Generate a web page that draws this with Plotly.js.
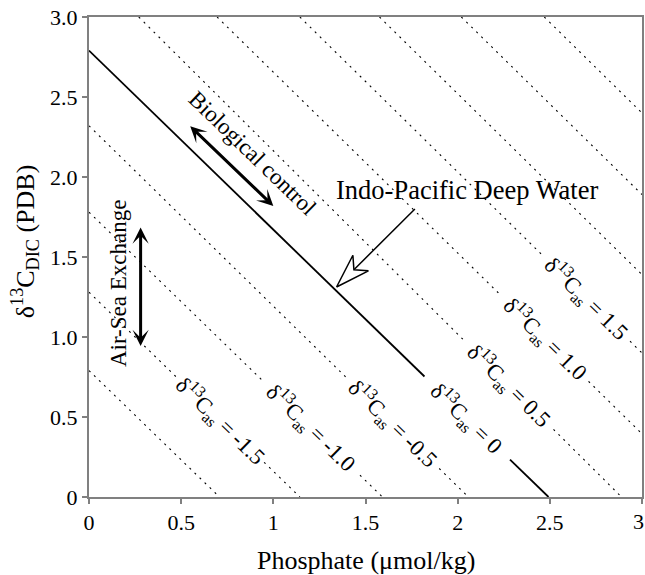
<!DOCTYPE html>
<html>
<head>
<meta charset="utf-8">
<script src="https://cdn.plot.ly/plotly-3.0.1.min.js"></script>
<style>html,body{margin:0;padding:0;background:#fff;}#chart{width:645px;height:575px;}</style>
</head>
<body>
<div id="chart"></div>
<script>
// ---- Data ----
// δ13Cas value of each iso-line (null = unlabeled line)
const casValues = [null, -1.5, -1.0, -0.5, 0, 0.5, 1.0, 1.5, null, null, null];
// line start / end points (phosphate, δ13C_DIC)
const lineX0 = [0, 0, 0, 0, 0, 0.27, 0.695, 1.144, 1.576, 2.02, 2.47];
const lineY0 = [0.79, 1.28, 1.78, 2.32, 2.79, 3, 3, 3, 3, 3, 3];
const lineX1 = [0.708, 1.144, 1.592, 2.058, 2.493, 2.889, 3, 3, 3, 3, 3];
const lineY1 = [0, 0, 0, 0, 0, 0, 0.395, 0.90, 1.39, 1.89, 2.40];
// gaps (phosphate start / end) left for the labels
const gapX0 = [null, 0.48, 0.94, 1.40, 1.82, 2.04, 2.24, 2.465, null, null, null];
const gapX1 = [null, 0.95, 1.47, 1.90, 2.284, 2.52, 2.71, 2.935, null, null, null];
const solidIndex = 4;

const xTickVals = [0, 0.5, 1, 1.5, 2, 2.5, 3];
const xTickText = ['0', '0.5', '1', '1.5', '2', '2.5', '3'];
const yTickVals = [0, 0.5, 1, 1.5, 2, 2.5, 3];
const yTickText = ['0', '0.5', '1.0', '1.5', '2.0', '2.5', '3.0'];

// annotation arrows
const bioArrow = {x0: 0.541, y0: 2.326, x1: 1.0, y1: 1.819};
const airSeaArrow = {x: 0.28, y0: 1.693, y1: 0.944};
const indoArrow = {tailX: 1.768, tailY: 1.80, tipX: 1.343, tipY: 1.3125};
const bioText = {x: 0.888, y: 2.147};
const airSeaText = {x: 0.16, y: 1.34};
const indoText = {x: 2.05, y: 1.917};

// ---- Geometry helpers ----
const W = 645, H = 575;
const M = {l: 89, r: 3, t: 17, b: 78};
const pw = W - M.l - M.r, ph = H - M.t - M.b;
const pxPerX = pw / 3, pxPerY = ph / 3;
const FONT = 'Liberation Serif, Times New Roman, serif';

function yOnLine(i, x) {
  const t = (x - lineX0[i]) / (lineX1[i] - lineX0[i]);
  return lineY0[i] + t * (lineY1[i] - lineY0[i]);
}

const traces = [];
const annotations = [];

for (let i = 0; i < lineX0.length; i++) {
  let xs, ys;
  if (gapX0[i] !== null) {
    xs = [lineX0[i], gapX0[i], null, gapX1[i], lineX1[i]];
    ys = [lineY0[i], yOnLine(i, gapX0[i]), null, yOnLine(i, gapX1[i]), lineY1[i]];
  } else {
    xs = [lineX0[i], lineX1[i]];
    ys = [lineY0[i], lineY1[i]];
  }
  const solid = i === solidIndex;
  traces.push({
    type: 'scatter', mode: 'lines', x: xs, y: ys, hoverinfo: 'skip', showlegend: false,
    line: solid ? {color: '#000', width: 1.8} : {color: '#000', width: 1.1, dash: '2px,5px'}
  });
  if (casValues[i] !== null) {
    const cx = (gapX0[i] + gapX1[i]) / 2;
    const cy = yOnLine(i, cx);
    const slopePx = Math.abs((lineY1[i] - lineY0[i]) * pxPerY / ((lineX1[i] - lineX0[i]) * pxPerX));
    const ang = Math.atan(slopePx) * 180 / Math.PI;
    const v = casValues[i];
    const vt = v === 0 ? '0' : v.toFixed(1);
    annotations.push({
      x: cx, y: cy, xref: 'x', yref: 'y', showarrow: false,
      text: 'δ<sup>13</sup>C<sub>as</sub> = ' + vt,
      textangle: ang, xanchor: 'center', yanchor: 'middle',
      font: {family: FONT, size: 22.5, color: '#000'}
    });
  }
}

// Indo-Pacific hollow arrow (shaft + open barbed head)
(function () {
  const dxp = (indoArrow.tipX - indoArrow.tailX) * pxPerX;
  const dyp = -(indoArrow.tipY - indoArrow.tailY) * pxPerY;
  const len = Math.hypot(dxp, dyp);
  const ux = dxp / len, uy = dyp / len;      // screen direction tail->tip
  const nx = -uy, ny = ux;
  const L = 34, Wd = 11, notch = 0.72 * L;
  function toData(px, py) { // offsets from tip in screen px
    return [indoArrow.tipX + px / pxPerX, indoArrow.tipY - py / pxPerY];
  }
  const tip = toData(0, 0);
  const w1 = toData(-L * ux + Wd * nx, -L * uy + Wd * ny);
  const w2 = toData(-L * ux - Wd * nx, -L * uy - Wd * ny);
  const nt = toData(-notch * ux, -notch * uy);
  traces.push({
    type: 'scatter', mode: 'lines', x: [indoArrow.tailX, nt[0]], y: [indoArrow.tailY, nt[1]],
    line: {color: '#000', width: 1.5}, hoverinfo: 'skip', showlegend: false
  });
  traces.push({
    type: 'scatter', mode: 'lines', fill: 'toself', fillcolor: '#fff',
    x: [tip[0], w1[0], nt[0], w2[0], tip[0]], y: [tip[1], w1[1], nt[1], w2[1], tip[1]],
    line: {color: '#000', width: 1.5}, hoverinfo: 'skip', showlegend: false
  });
})();

annotations.push({
  x: bioArrow.x1, y: bioArrow.y1, ax: bioArrow.x0, ay: bioArrow.y0,
  xref: 'x', yref: 'y', axref: 'x', ayref: 'y', text: '', showarrow: true,
  arrowhead: 3, startarrowhead: 3, arrowside: 'end+start', arrowwidth: 3,
  arrowsize: 0.9, startarrowsize: 0.9, arrowcolor: '#000', standoff: 0, startstandoff: 0
});
annotations.push({
  x: airSeaArrow.x, y: airSeaArrow.y1, ax: airSeaArrow.x, ay: airSeaArrow.y0,
  xref: 'x', yref: 'y', axref: 'x', ayref: 'y', text: '', showarrow: true,
  arrowhead: 3, startarrowhead: 3, arrowside: 'end+start', arrowwidth: 3,
  arrowsize: 0.9, startarrowsize: 0.9, arrowcolor: '#000', standoff: 0, startstandoff: 0
});
annotations.push({
  x: bioText.x, y: bioText.y, xref: 'x', yref: 'y', showarrow: false,
  text: 'Biological control', textangle: 44, xanchor: 'center', yanchor: 'middle',
  font: {family: FONT, size: 23, color: '#000'}
});
annotations.push({
  x: airSeaText.x, y: airSeaText.y, xref: 'x', yref: 'y', showarrow: false,
  text: 'Air-Sea Exchange', textangle: -90, xanchor: 'center', yanchor: 'middle',
  font: {family: FONT, size: 23, color: '#000'}
});
annotations.push({
  x: indoText.x, y: indoText.y, xref: 'x', yref: 'y', showarrow: false,
  text: 'Indo-Pacific Deep Water', xanchor: 'center', yanchor: 'middle',
  font: {family: FONT, size: 26.5, color: '#000'}
});
// last x tick label (sits at the right edge, as in the reference)
annotations.push({
  x: xTickVals[xTickVals.length - 1], y: -0.051, xref: 'x', yref: 'paper', showarrow: false,
  text: xTickText[xTickText.length - 1], xanchor: 'center', yanchor: 'middle', xshift: -4,
  font: {family: FONT, size: 22, color: '#000'}
});
// axis titles
annotations.push({
  x: 0.5, y: -0.132, xref: 'paper', yref: 'paper', showarrow: false,
  text: 'Phosphate (μmol/kg)', xanchor: 'center', yanchor: 'middle',
  font: {family: FONT, size: 26, color: '#000'}
});
annotations.push({
  x: -0.1157, y: 0.533, xref: 'paper', yref: 'paper', showarrow: false,
  text: 'δ<sup>13</sup>C<sub>DIC</sub> (PDB)', textangle: -90, xanchor: 'center', yanchor: 'middle',
  font: {family: FONT, size: 26, color: '#000'}
});

const axisCommon = {
  range: [0, 3], showgrid: false, zeroline: false, showline: true, mirror: true,
  linecolor: '#808080', linewidth: 2, ticks: 'outside', ticklen: 5, tickwidth: 2,
  tickcolor: '#808080', tickmode: 'array', fixedrange: true,
  tickfont: {family: FONT, size: 22, color: '#000'}
};

const layout = {
  width: W, height: H, margin: M, showlegend: false,
  paper_bgcolor: '#fff', plot_bgcolor: '#fff',
  xaxis: Object.assign({}, axisCommon, {tickvals: xTickVals, ticktext: xTickText}),
  yaxis: Object.assign({}, axisCommon, {tickvals: yTickVals, ticktext: yTickText}),
  annotations: annotations
};

Plotly.newPlot('chart', traces, layout, {staticPlot: true, displayModeBar: false});
</script>
</body>
</html>
